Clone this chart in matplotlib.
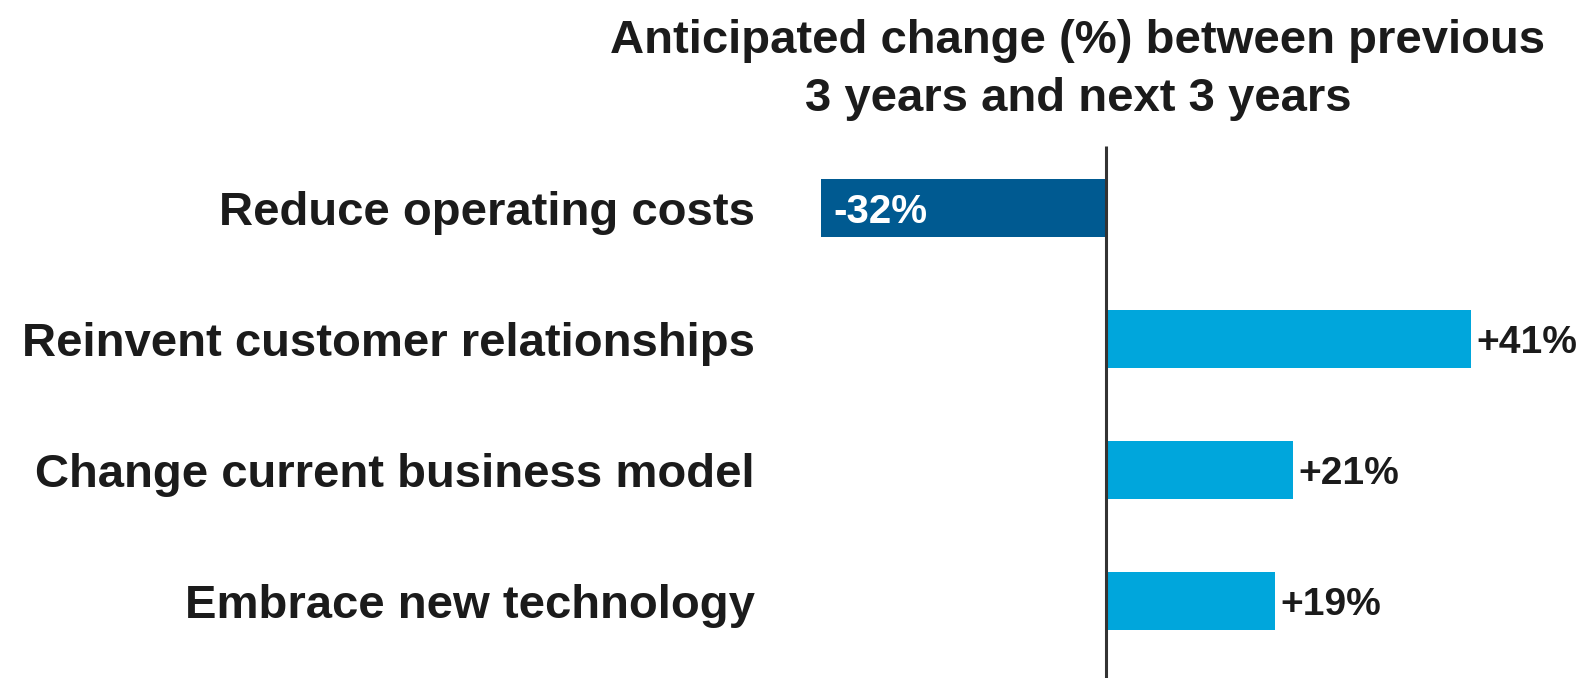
import matplotlib.pyplot as plt

# data
categories = ["Reduce operating costs", "Reinvent customer relationships",
              "Change current business model", "Embrace new technology"]
values = [-32, 41, 21, 19]
labels = ["-32%", "+41%", "+21%", "+19%"]
title = "Anticipated change (%) between previous\n3 years and next 3 years"

dark_blue = "#005a91"
light_blue = "#00a6dc"
text_col = "#1b1b1b"

plt.rcParams['font.family'] = ['Liberation Sans', 'DejaVu Sans']

W, H = 1582, 678
fig = plt.figure(figsize=(W / 100, H / 100), dpi=100)
ax = fig.add_axes([0, 0, 1, 1])

# pixel layout: zero line at x=1106, ~8.9 px per percent, rows 131 px apart
zero_px, scale = 1106, 8.9
row, first_px = 131, 208
ax.set_xlim(-zero_px / scale, (W - zero_px) / scale)
ax.set_ylim((H - first_px) / row, -first_px / row)
ax.axis("off")

fs = 34
ypos = list(range(len(categories)))
colors = [dark_blue if v < 0 else light_blue for v in values]
ax.barh(ypos, values, height=0.45, color=colors)

# zero line
ax.vlines(0, -0.47, (H - first_px) / row, color="#333333", lw=2.2)

for y, v, lab, cat in zip(ypos, values, labels, categories):
    ax.text(755 / W, y, cat, transform=ax.get_yaxis_transform(),
            ha="right", va="center_baseline", fontsize=fs, fontweight="bold", color=text_col)
    if v < 0:
        ax.annotate(lab, (v, y), xytext=(9, 0), textcoords="offset points",
                    ha="left", va="center_baseline", fontsize=29, fontweight="bold", color="white")
    else:
        ax.annotate(lab, (v, y), xytext=(4, 0), textcoords="offset points",
                    ha="left", va="center_baseline", fontsize=28, fontweight="bold", color=text_col)

fig.text(1078 / W, 1 - 70 / H, title, ha="center", va="center", fontsize=fs,
         fontweight="bold", color=text_col, linespacing=1.42)

fig.savefig("out.png", dpi=100)
